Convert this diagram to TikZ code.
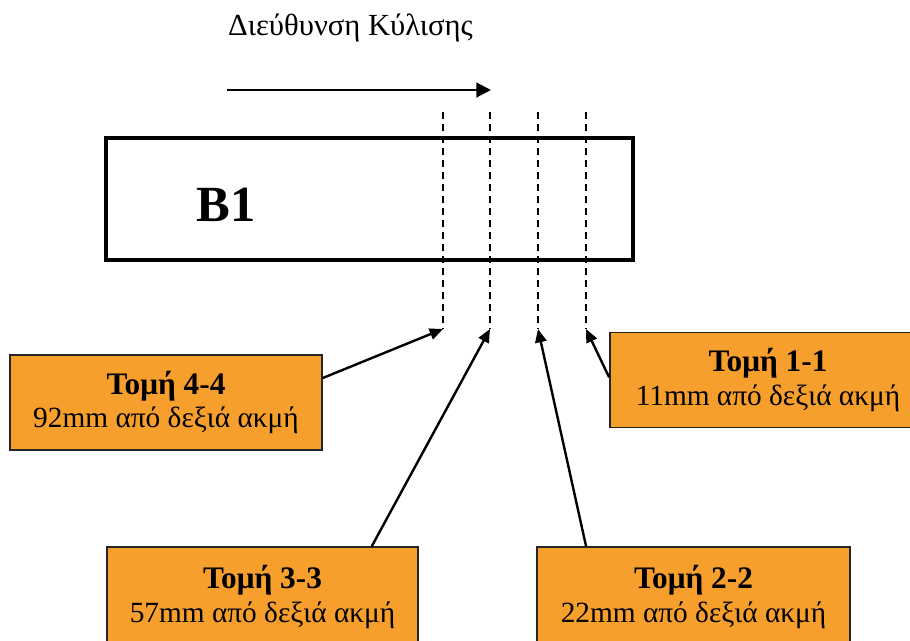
\documentclass[tikz,border=0pt]{standalone}
\usepackage{fontspec}
\setmainfont{Liberation Serif}
\usetikzlibrary{arrows.meta}
\definecolor{secorange}{RGB}{247,159,44}

\newcommand{\sectitle}[1]{{\bfseries\fontsize{23.5}{25}\selectfont #1}}

\tikzset{
  beamframe/.style={draw, line width=2.5pt, minimum width=395.25pt, minimum height=91.5pt, inner sep=0pt},
  cutline/.style={line width=1.7pt, dash pattern=on 5.25pt off 3.75pt},
  secbox/.style={draw=black!85, line width=1.3pt, fill=secorange, align=center,
    font=\fontsize{22}{25}\selectfont, inner sep=0pt},
  pointer/.style={line width=1.8pt, -{Triangle[length=10pt,width=8.5pt]}},
  rolldir/.style={line width=1.6pt, -{Triangle[length=11pt,width=11pt]}}
}

\begin{document}
\begin{tikzpicture}[x=0.75pt,y=-0.75pt]
\useasboundingbox (0,0) rectangle (910,640);
\clip (0,0) rectangle (910,640);

% rolling direction
\node[font=\fontsize{23}{26}\selectfont, anchor=base] (title) at (350.5,35) {Διεύθυνση Κύλισης};
\coordinate (dirstart) at (227,90);
\coordinate (dirend) at (491,90);
\draw[rolldir] (dirstart) -- (dirend);

% the bar
\node[beamframe] (beam) at (369.5,199) {};
\node[font=\bfseries\fontsize{38}{40}\selectfont] (label) at (226,205) {B1};

% section lines
\coordinate (c4t) at (443,112); \coordinate (c4b) at (443,329);
\coordinate (c3t) at (490,112); \coordinate (c3b) at (490,329);
\coordinate (c2t) at (538,112); \coordinate (c2b) at (538,329);
\coordinate (c1t) at (586,112); \coordinate (c1b) at (586,329);
\foreach \c in {4,3,2,1} \draw[cutline] (c\c t) -- (c\c b);

% section labels
\node[secbox, minimum width=234pt, minimum height=71.25pt] (s44) at (166,402.5)
  {\sectitle{Τομή 4-4}\\92mm από δεξιά ακμή};
\node[secbox, minimum width=237pt, minimum height=71.25pt] (s11) at (768,380)
  {\sectitle{Τομή 1-1}\\11mm από δεξιά ακμή};
\node[secbox, minimum width=233.25pt, minimum height=75pt] (s33) at (262.5,597)
  {\sectitle{Τομή 3-3}\\57mm από δεξιά ακμή};
\node[secbox, minimum width=234.75pt, minimum height=75pt] (s22) at (693.5,597)
  {\sectitle{Τομή 2-2}\\22mm από δεξιά ακμή};

% pointers to the section lines
\draw[pointer] ([yshift=18.4pt]s44.east) -- (c4b);
\draw[pointer] ([xshift=82pt]s33.north) -- (c3b);
\draw[pointer] ([xshift=-80.6pt]s22.north) -- (c2b);
\draw[pointer] ([yshift=2pt]s11.west) -- (c1b);
\end{tikzpicture}
\end{document}
